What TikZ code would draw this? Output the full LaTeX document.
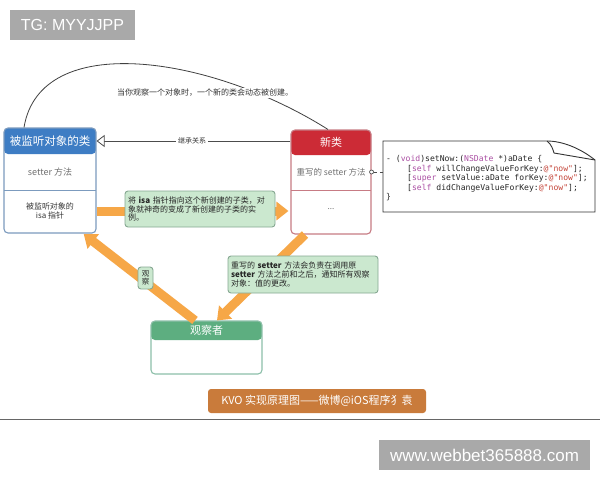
\documentclass[tikz,border=0pt]{standalone}
\usepackage{fontspec}
\setmainfont{Noto Sans CJK SC}
\setmonofont{DejaVu Sans Mono}
\newfontfamily\wmfont{Liberation Sans}
\usetikzlibrary{arrows.meta}
\definecolor{objblue}{HTML}{3E7DC4}
\definecolor{objborder}{HTML}{7C9BBE}
\definecolor{newred}{HTML}{CC2B36}
\definecolor{newborder}{HTML}{C77B84}
\definecolor{obsgreen}{HTML}{5DAE80}
\definecolor{obsborder}{HTML}{8DBFA9}
\definecolor{notefill}{HTML}{CBE8CF}
\definecolor{noteborder}{HTML}{86A892}
\definecolor{arroworange}{HTML}{F6A747}
\definecolor{labelorange}{HTML}{C97B3B}
\definecolor{wmgray}{HTML}{A9A9A9}
\definecolor{codepurple}{HTML}{AA4FA3}
\definecolor{codestr}{HTML}{C5463A}
\definecolor{rowgray}{HTML}{707070}
\newcommand\kwd[1]{\textcolor{codepurple}{#1}}
\newcommand\nowstr{\textcolor{codestr}{@"now"}}
\tikzset{
  classbox/.style={draw, line width=1.1pt, rounded corners=4pt, inner sep=0pt, fill=white},
  notebox/.style={draw=noteborder, fill=notefill, line width=0.9pt, rounded corners=3pt, inner sep=3pt, align=left, text=black!85, font=\fontsize{8}{8.6}\selectfont},
  orangearrow/.style={draw=arroworange, line width=9pt, -{Triangle[length=12pt 0, width=18pt 0]}},
  headtext/.style={text=white, font=\fontsize{11.5}{13}\selectfont},
  rowtext/.style={text=rowgray, font=\fontsize{9}{10}\selectfont, align=center},
  codeline/.style={anchor=base west, inner sep=0pt, text=black!85, font=\ttfamily\fontsize{8.1}{9}\selectfont},
  wmbox/.style={fill=wmgray, text=white, inner sep=0pt, font=\wmfont},
}
\begin{document}
\begin{tikzpicture}[x=1pt,y=-1pt]
\fill[white] (0,0) rectangle (600,480);
\useasboundingbox (0,0) rectangle (600,480);

% watermark top
\node[wmbox, minimum width=125pt, minimum height=30pt, font=\wmfont\fontsize{16}{18}\selectfont] (tg) at (72.5,25) {TG: MYYJJPP};

% class boxes
\node[classbox, draw=objborder, minimum width=92pt, minimum height=105pt,
  path picture={\fill[objblue] (path picture bounding box.north west) rectangle ([yshift=-26pt]path picture bounding box.north east);
    \draw[objborder, line width=1pt] ([yshift=-62pt]path picture bounding box.north west) -- ([yshift=-62pt]path picture bounding box.north east);}
  ] (obj) at (50,180.5) {};
\node[headtext] (objtitle) at (50,141) {被监听对象的类};
\node[rowtext] (objsetter) at (50,172) {setter 方法};
\node[rowtext, text=black!80, font=\fontsize{8}{8.8}\selectfont] (objisa) at (50,211) {被监听对象的\\isa 指针};

\node[classbox, draw=newborder, minimum width=80pt, minimum height=104pt,
  path picture={\fill[newred] (path picture bounding box.north west) rectangle ([yshift=-25pt]path picture bounding box.north east);
    \draw[newborder, line width=1pt] ([yshift=-60pt]path picture bounding box.north west) -- ([yshift=-60pt]path picture bounding box.north east);}
  ] (newc) at (331,182) {};
\node[headtext, font=\fontsize{11}{13}\selectfont] (newtitle) at (331,142.5) {新类};
\node[rowtext, font=\fontsize{8.5}{10}\selectfont] (newsetter) at (331,172) {重写的 setter 方法};
\node[rowtext, font=\fontsize{8}{10}\selectfont] (newdots) at (331,209) {...};

\node[classbox, draw=obsborder, minimum width=111pt, minimum height=53pt,
  path picture={\fill[obsgreen] (path picture bounding box.north west) rectangle ([yshift=-19pt]path picture bounding box.north east);}
  ] (obs) at (206.5,347.5) {};
\node[headtext, font=\fontsize{11}{13}\selectfont] (obstitle) at (206.5,330) {观察者};

% top curve
\draw[black!75, line width=0.8pt] ([xshift=-26pt]obj.north) .. controls (40,30) and (210,55) .. ([xshift=-3pt]newc.north);
\node[fill=white, inner sep=1pt, text=black!80, font=\fontsize{8}{9}\selectfont] (curvelabel) at (205,93) {当你观察一个对象时，一个新的类会动态被创建。};

% inheritance
\node[inner sep=0pt] (inhpt) at (192,141) {};
\draw[black!70, line width=0.8pt, -{Triangle[length=8pt 0, width=12pt 0, fill=white]}] (newc.west |- inhpt) -- (obj.east |- inhpt);
\node[fill=white, inner sep=2pt, text=black!80, font=\fontsize{7}{8}\selectfont] (inhlabel) at (192,141) {继承关系};

% orange arrows
\draw[orangearrow, shorten >=2pt] (obj.east |- objisa) -- (newc.west |- objisa);
\draw[orangearrow] ([xshift=-26pt]newc.south) -- ([xshift=10.5pt]obs.north);
\draw[orangearrow, shorten >=1pt] ([xshift=-11.5pt]obs.north) -- ([xshift=33pt]obj.south);

% notes
\node[notebox, minimum width=150pt, minimum height=36pt, text width=144pt] (note1) at (200,209)
  {将 \textbf{isa} 指针指向这个新创建的子类，对\\象就神奇的变成了新创建的子类的实\\例。};
\node[notebox, minimum width=150pt, minimum height=37pt, text width=144pt] (note2) at (303,274.5)
  {重写的 \textbf{setter} 方法会负责在调用原\\\textbf{setter} 方法之前和之后，通知所有观察\\对象：值的更改。};
\node[notebox, align=center, inner sep=0pt, minimum width=15pt, minimum height=22pt, font=\fontsize{7.5}{8.5}\selectfont] (obslabel) at (145.5,278) {观\\察};

% code box
\node[minimum width=212pt, minimum height=71pt, inner sep=0pt] (code) at (489,176.5) {};
\draw[black!80, line width=0.9pt, fill=white] (383,141) -- (547,141) .. controls (562,141) and (580,148) .. (595,160) -- (595,212) -- (383,212) -- cycle;
\draw[black!80, line width=0.9pt] (547,141) .. controls (552,145) and (553,150) .. (554,153) -- (595,160);
\node[circle, draw=black!70, fill=white, line width=0.7pt, inner sep=0pt, minimum size=4pt] (dot) at (newc.east |- newsetter) {};
\draw[black!70, line width=0.7pt, dashed] (dot) -- (code.west |- dot);
\node[codeline] (c1) at (386,161.5) {- (\kwd{void})setNow:(\kwd{NSDate} *)aDate \{};
\node[codeline] (c2) at (407,171) {[\kwd{self} willChangeValueForKey:\nowstr];};
\node[codeline] (c3) at (407,180.5) {[\kwd{super} setValue:aDate forKey:\nowstr];};
\node[codeline] (c4) at (407,190) {[\kwd{self} didChangeValueForKey:\nowstr];};
\node[codeline] (c5) at (386,199.5) {\}};

% bottom title
\node[fill=labelorange, rounded corners=3pt, text=white, minimum width=218pt, minimum height=24pt, inner sep=0pt, font=\fontsize{11}{13}\selectfont] (title) at (317,401) {KVO 实现原理图——微博@iOS程序犭袁};

\draw[black!60, line width=1pt] (0,419) -- (600,419);

\node[wmbox, minimum width=211pt, minimum height=30pt, font=\wmfont\fontsize{17}{19}\selectfont] (wm) at (484.5,455) {www.webbet365888.com};
\end{tikzpicture}
\end{document}
